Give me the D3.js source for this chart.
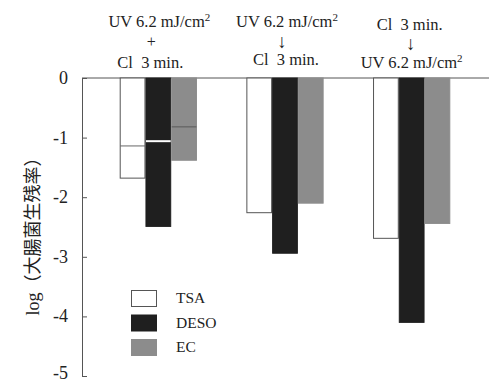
<!DOCTYPE html>
<html>
<head>
<meta charset="utf-8">
<script src="https://cdn.jsdelivr.net/npm/d3@7"></script>
<style>
  html, body { margin: 0; padding: 0; background: #fff; }
  svg { display: block; }
  text { font-family: "Liberation Serif", "Times New Roman", "DejaVu Serif", serif; fill: #222; white-space: pre; }
  text.cjk { font-family: "Liberation Serif", "Noto Sans CJK JP", serif; }
</style>
</head>
<body>
<svg id="chart" width="489" height="382"></svg>
<script>
// Treatment groups and the log survival of E. coli on each medium
const groups = ["UV+Cl", "UV→Cl", "Cl→UV"];
const media = ["TSA", "DESO", "EC"];
const tsa  = [-1.68, -2.26, -2.69];
const deso = [-2.49, -2.94, -4.10];
const ec   = [-1.38, -2.10, -2.44];
// Level reached by the UV step alone in the simultaneous treatment
const uvPart = [-1.14, -1.06, -0.82];
const yTicks = [0, -1, -2, -3, -4, -5];
const headerLines = [
  ["UV 6.2 mJ/cm²", "+", "Cl  3 min."],
  ["UV 6.2 mJ/cm²", "↓", "Cl  3 min."],
  ["Cl  3 min.", "↓", "UV 6.2 mJ/cm²"]
];

const fills = { TSA: "#ffffff", DESO: "#1f1f1f", EC: "#8c8c8c" };
const strokes = { TSA: "#555", DESO: "#1f1f1f", EC: "#8c8c8c" };
const values = { TSA: tsa, DESO: deso, EC: ec };

const svg = d3.select("#chart");

const y = d3.scaleLinear().domain([0, -5]).range([78, 376]);
const x = d3.scaleBand().domain(groups).range([95, 475])
  .paddingInner(0.39).paddingOuter(0.195);
const xm = d3.scaleBand().domain(media).range([0, x.bandwidth()]);

// Zero line across the top and the vertical axis
svg.append("line")
  .attr("x1", 82).attr("x2", 489)
  .attr("y1", y(0)).attr("y2", y(0))
  .attr("stroke", "#555").attr("stroke-width", 1);

const yAxis = d3.axisRight(y).tickValues(yTicks).tickSize(5).tickFormat("");
const ag = svg.append("g").attr("transform", "translate(82,0)").call(yAxis);
ag.select(".domain").attr("stroke", "#555");
ag.selectAll(".tick line").attr("stroke", "#555");

svg.append("g").selectAll("text").data(yTicks).join("text")
  .attr("x", 68).attr("y", d => Math.min(y(d) + 6, 379))
  .attr("text-anchor", "end")
  .attr("font-size", 18)
  .text(d => d === 0 ? "0" : "-" + Math.abs(d));

// Y axis title
svg.append("text")
  .attr("class", "cjk")
  .attr("transform", "translate(39,232) rotate(-90)")
  .attr("text-anchor", "middle")
  .attr("font-size", 18)
  .text("log（大腸菌生残率）");

// Bars hanging down from zero
const barG = svg.append("g");
groups.forEach((g, gi) => {
  media.forEach(m => {
    const v = values[m][gi];
    const bx = x(g) + xm(m);
    barG.append("rect")
      .attr("x", bx + 0.5)
      .attr("y", y(0))
      .attr("width", xm.bandwidth() - 1)
      .attr("height", y(v) - y(0))
      .attr("fill", fills[m])
      .attr("stroke", strokes[m])
      .attr("stroke-width", 1);
  });
});

// Division marks showing the UV step inside the simultaneous treatment
const divColor = { TSA: "#666", DESO: "#ffffff", EC: "#5a5a5a" };
media.forEach((m, mi) => {
  const bx = x(groups[0]) + xm(m);
  barG.append("line")
    .attr("x1", bx + 0.5).attr("x2", bx + xm.bandwidth() - 0.5)
    .attr("y1", y(uvPart[mi])).attr("y2", y(uvPart[mi]))
    .attr("stroke", divColor[m])
    .attr("stroke-width", m === "DESO" ? 2 : 1);
});

// Treatment description above each group
const headerY = [[27, 47, 68], [27, 48, 65], [30, 50, 68]];
const headerDx = [[1, -7, -8], [2, -3, 1], [-2, -1, 0]];
groups.forEach((g, gi) => {
  const cx = x(g) + x.bandwidth() / 2;
  headerLines[gi].forEach((line, li) => {
    const t = svg.append("text")
      .attr("x", cx + headerDx[gi][li])
      .attr("y", headerY[gi][li])
      .attr("text-anchor", "middle")
      .attr("font-size", line === "↓" ? 19 : (line.length < 3 ? 16 : 16.5));
    if (line.endsWith("²")) {
      t.append("tspan").text(line.slice(0, -1));
      t.append("tspan").attr("font-size", 11).attr("dy", -6).text("2");
    } else {
      t.text(line);
    }
  });
});

// Legend
const leg = svg.append("g");
media.forEach((m, i) => {
  const ly = 290 + i * 24.5;
  leg.append("rect")
    .attr("x", 131.5).attr("y", ly + 0.5)
    .attr("width", 25).attr("height", 16)
    .attr("fill", fills[m])
    .attr("stroke", m === "TSA" ? "#555" : fills[m]);
  leg.append("text")
    .attr("x", 176).attr("y", ly + 13)
    .attr("font-size", 15.5)
    .text(m);
});
</script>
</body>
</html>
